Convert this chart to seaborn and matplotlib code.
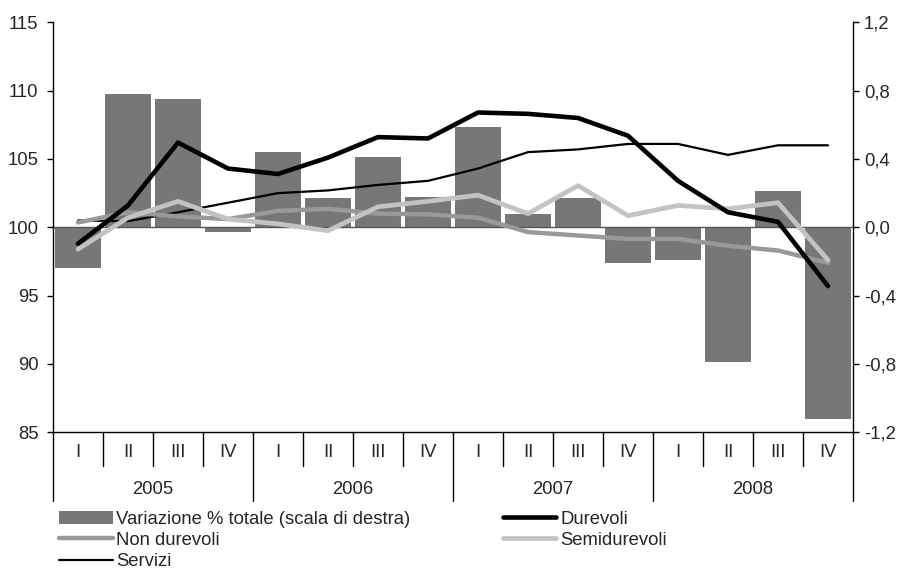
import matplotlib
matplotlib.use('Agg')
import matplotlib.pyplot as plt
import matplotlib.transforms as mtransforms
from matplotlib.lines import Line2D
from matplotlib.ticker import FuncFormatter
import seaborn as sns
import pandas as pd
import numpy as np

# ---------------- data ----------------
years = ['2005', '2006', '2007', '2008']
quarters = ['I', 'II', 'III', 'IV']
variazione = [-0.24, 0.78, 0.75, -0.03, 0.44, 0.17, 0.41, 0.18,
              0.59, 0.08, 0.17, -0.21, -0.19, -0.79, 0.21, -1.12]
durevoli = [98.8, 101.6, 106.2, 104.3, 103.9, 105.1, 106.6, 106.5,
            108.4, 108.3, 108.0, 106.7, 103.4, 101.1, 100.4, 95.7]
non_durevoli = [100.35, 101.1, 100.8, 100.6, 101.2, 101.35, 101.0, 100.95,
                100.7, 99.65, 99.4, 99.15, 99.15, 98.65, 98.3, 97.4]
semidurevoli = [98.4, 100.7, 101.9, 100.6, 100.25, 99.75, 101.5, 101.9,
                102.35, 101.0, 103.05, 100.85, 101.6, 101.35, 101.8, 97.6]
servizi = [100.5, 100.45, 101.1, 101.8, 102.5, 102.7, 103.1, 103.4,
           104.3, 105.5, 105.7, 106.1, 106.1, 105.3, 106.0, 106.0]

labels = ['Variazione % totale (scala di destra)', 'Non durevoli', 'Servizi',
          'Durevoli', 'Semidurevoli']

n = len(variazione)
pos = list(range(n))

# ---------------- style ----------------
sns.set_style('white')
plt.rcParams['font.family'] = ['Liberation Sans', 'DejaVu Sans']
FS = 13.3

fig = plt.figure(figsize=(8.99, 5.75), dpi=100)
L, R, T, B = 53 / 899, 853 / 899, 22.3 / 575, 432.3 / 575
ax = fig.add_axes([L, 1 - B, R - L, B - T])
ax2 = ax.twinx()

# bars on right axis
df_bar = pd.DataFrame({'pos': pos, 'var': variazione})
sns.barplot(data=df_bar, x='pos', y='var', ax=ax2, color='#777777',
            saturation=1, width=0.92, linewidth=0)
ax2.axhline(0, color='#555555', lw=1.0, zorder=5)

# lines on left axis
df_lines = pd.DataFrame({'pos': pos, 'Durevoli': durevoli, 'Non durevoli': non_durevoli,
                         'Semidurevoli': semidurevoli, 'Servizi': servizi})
styles = {
    'Servizi': dict(color='black', lw=1.6),
    'Non durevoli': dict(color='#999999', lw=3.2),
    'Semidurevoli': dict(color='#c3c3c3', lw=3.4),
    'Durevoli': dict(color='black', lw=3.3),
}
for name in ['Servizi', 'Non durevoli', 'Semidurevoli', 'Durevoli']:
    sns.lineplot(data=df_lines, x='pos', y=name, ax=ax, color=styles[name]['color'],
                 lw=styles[name]['lw'], solid_joinstyle='round', solid_capstyle='round')

ax.set_zorder(ax2.get_zorder() + 1)
ax.patch.set_visible(False)

# axes limits & ticks
ax.set_xlim(-0.5, n - 0.5)
ax2.set_xlim(-0.5, n - 0.5)
ax.set_ylim(85, 115)
ax.set_yticks(np.arange(85, 116, 5))
ax2.set_ylim(-1.2, 1.2)
ax2.set_yticks(np.round(np.arange(-1.2, 1.21, 0.4), 1))
ax2.yaxis.set_major_formatter(FuncFormatter(lambda v, p: f'{v:.1f}'.replace('.', ',')))
for a in (ax, ax2):
    a.set_xticks([])
    a.set_xlabel('')
    a.set_ylabel('')
    for s in a.spines.values():
        s.set_visible(False)
ax.spines['left'].set_visible(True)
ax.spines['bottom'].set_visible(True)
ax2.spines['right'].set_visible(True)
for s in (ax.spines['left'], ax.spines['bottom'], ax2.spines['right']):
    s.set_color('black')
    s.set_linewidth(1.0)

ax.tick_params(axis='y', which='major', direction='out', length=4.5, width=1,
               color='black', labelsize=FS, pad=6, left=True, right=False)
ax2.tick_params(axis='y', which='major', direction='out', length=4, width=1,
                color='black', labelsize=FS, pad=4, right=True, left=False)

# two-level category axis
trans = mtransforms.blended_transform_factory(ax.transData, ax.transAxes)
hpx = (B - T) * 575
short = 34 / hpx
long_ = 69 / hpx
for i in range(n + 1):
    b = i - 0.5
    ln = long_ if i % 4 == 0 else short
    ax.add_line(Line2D([b, b], [0, -ln], transform=trans, color='black', lw=1, clip_on=False))
for i in range(n):
    ax.text(i, -20.4 / hpx, quarters[i % 4], transform=trans, ha='center', va='center',
            fontsize=FS)
for k, y in enumerate(years):
    ax.text(4 * k + 1.5, -56.7 / hpx, y, transform=trans, ha='center', va='center',
            fontsize=FS)

# legend
bar_handle = ax2.containers[0]
line_map = {}
for name, ln in zip(['Servizi', 'Non durevoli', 'Semidurevoli', 'Durevoli'], ax.get_lines()[:4]):
    line_map[name] = ln
handles = [bar_handle, line_map['Non durevoli'], line_map['Servizi'],
           line_map['Durevoli'], line_map['Semidurevoli']]
fig.legend(handles, labels, ncol=2, loc='upper left', bbox_to_anchor=(59 / 899, 1 - 510.5 / 575),
           frameon=False, fontsize=FS, handlelength=2.9, handletextpad=0.2,
           columnspacing=5.0, labelspacing=0.24, borderpad=0, borderaxespad=0)

fig.savefig('out.png', dpi=100)
